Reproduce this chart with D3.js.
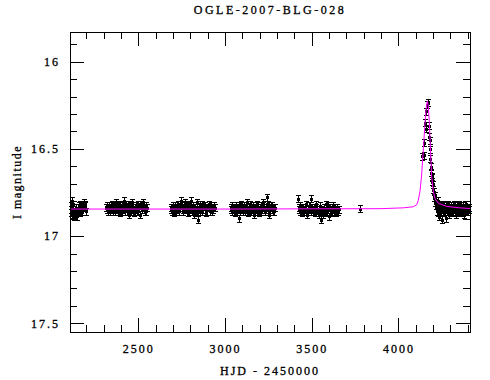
<!DOCTYPE html>
<html>
<head>
<meta charset="utf-8">
<script src="https://cdn.jsdelivr.net/npm/d3@7"></script>
<style>
	body { margin: 0; background: #ffffff; }
	text { font-family: "Liberation Serif", "DejaVu Serif", serif; fill: #000; stroke: #000; stroke-width: 0.3px; }
</style>
</head>
<body>
<div id="lc-chart"></div>
<script>
// OGLE photometry, HJD - 2450000 and I magnitude, one pair of arrays per season
var hjd2001 = [2110, 2112, 2114, 2115, 2117, 2119, 2120, 2122, 2125, 2128, 2131, 2134, 2136, 2140, 2143, 2146, 2152, 2155, 2158, 2163, 2166, 2169, 2175, 2178, 2181, 2186, 2189, 2192, 2195, 2197],
	mag2001 = [16.85, 16.83, 16.87, 16.80, 16.86, 16.88, 16.84, 16.82, 16.85, 16.89, 16.88, 16.86, 16.87, 16.84, 16.86, 16.89, 16.86, 16.84, 16.83, 16.87, 16.82, 16.85, 16.82, 16.86, 16.84, 16.81, 16.84, 16.83, 16.82, 16.86];

var hjd2002 = [2315, 2318, 2322, 2325, 2329, 2333, 2337, 2341, 2345, 2350, 2353, 2356, 2359, 2362, 2366, 2370, 2373, 2377, 2380, 2384, 2387, 2390, 2394, 2397, 2401, 2405, 2408, 2412, 2416, 2420, 2424, 2428, 2431,
		2435, 2438, 2441, 2445, 2448, 2452, 2455, 2459, 2462, 2466, 2470, 2473, 2477, 2480, 2484, 2487, 2490, 2494, 2497, 2501, 2505, 2508, 2512, 2516, 2520, 2524, 2527, 2531, 2535, 2538, 2542, 2546, 2550],
	mag2002 = [16.84, 16.85, 16.83, 16.86, 16.85, 16.83, 16.86, 16.84, 16.85, 16.82, 16.84, 16.86, 16.85, 16.83, 16.86, 16.81, 16.83, 16.84, 16.86, 16.85, 16.83, 16.82, 16.85, 16.87, 16.84, 16.83, 16.86, 16.85, 16.82, 16.80, 16.86, 16.84, 16.82,
		16.86, 16.84, 16.82, 16.85, 16.88, 16.83, 16.84, 16.86, 16.81, 16.83, 16.85, 16.86, 16.87, 16.84, 16.83, 16.85, 16.86, 16.84, 16.82, 16.86, 16.84, 16.82, 16.88, 16.84, 16.85, 16.83, 16.81, 16.85, 16.83, 16.86, 16.86, 16.83, 16.84];

var hjd2003 = [2686, 2688, 2692, 2695, 2699, 2703, 2708, 2712, 2717, 2722, 2726, 2731, 2735, 2740, 2744, 2748, 2752, 2756, 2760, 2763, 2767, 2770, 2774, 2777, 2780, 2784, 2787, 2790, 2794, 2797, 2800, 2804, 2807,
		2811, 2814, 2818, 2821, 2824, 2827, 2830, 2833, 2836, 2840, 2843, 2846, 2850, 2854, 2858, 2862, 2866, 2870, 2875, 2879, 2884, 2888, 2893, 2897, 2902, 2907, 2912, 2917, 2922, 2927, 2932, 2936, 2940],
	mag2003 = [16.84, 16.85, 16.86, 16.84, 16.83, 16.87, 16.85, 16.83, 16.86, 16.85, 16.84, 16.82, 16.86, 16.84, 16.82, 16.80, 16.84, 16.86, 16.85, 16.83, 16.85, 16.81, 16.84, 16.85, 16.83, 16.87, 16.85, 16.82, 16.86, 16.84, 16.82, 16.80, 16.85,
		16.86, 16.84, 16.83, 16.86, 16.88, 16.84, 16.85, 16.87, 16.81, 16.85, 16.91, 16.86, 16.84, 16.82, 16.86, 16.84, 16.82, 16.86, 16.85, 16.83, 16.83, 16.86, 16.87, 16.84, 16.84, 16.82, 16.86, 16.84, 16.83, 16.86, 16.85, 16.83, 16.84];

var hjd2004 = [3033, 3036, 3040, 3043, 3047, 3050, 3054, 3058, 3062, 3066, 3070, 3074, 3078, 3081, 3085, 3088, 3092, 3095, 3099, 3102, 3106, 3110, 3113, 3117, 3120, 3124, 3128, 3131, 3135, 3138, 3142, 3145, 3149, 3152, 3156, 3160,
		3164, 3168, 3171, 3175, 3179, 3182, 3186, 3190, 3194, 3198, 3202, 3206, 3210, 3214, 3218, 3222, 3226, 3230, 3234, 3238, 3241, 3244, 3247, 3250, 3253, 3256, 3259, 3262, 3266, 3270, 3275, 3280, 3285, 3290],
	mag2004 = [16.84, 16.85, 16.83, 16.86, 16.85, 16.84, 16.86, 16.87, 16.84, 16.83, 16.86, 16.85, 16.83, 16.90, 16.86, 16.84, 16.85, 16.82, 16.84, 16.86, 16.85, 16.83, 16.86, 16.85, 16.83, 16.81, 16.84, 16.87, 16.85, 16.84, 16.86, 16.82, 16.84, 16.86, 16.85, 16.83,
		16.86, 16.88, 16.84, 16.85, 16.83, 16.82, 16.86, 16.84, 16.85, 16.87, 16.84, 16.83, 16.86, 16.85, 16.83, 16.81, 16.84, 16.86, 16.85, 16.84, 16.82, 16.78, 16.85, 16.82, 16.86, 16.88, 16.84, 16.85, 16.83, 16.83, 16.86, 16.86, 16.84, 16.84];

var hjd2005 = [3421, 3424, 3428, 3431, 3435, 3438, 3442, 3446, 3450, 3454, 3458, 3462, 3466, 3470, 3474, 3478, 3482, 3486, 3490, 3494, 3498, 3501, 3505, 3508, 3512, 3515, 3519, 3522, 3526, 3529, 3533, 3536,
		3540, 3543, 3547, 3551, 3555, 3558, 3562, 3565, 3569, 3572, 3576, 3580, 3584, 3588, 3592, 3596, 3600, 3604, 3608, 3612, 3616, 3620, 3624, 3628, 3632, 3636, 3640, 3644, 3648, 3652, 3655],
	mag2005 = [16.79, 16.84, 16.85, 16.86, 16.83, 16.85, 16.87, 16.84, 16.84, 16.86, 16.86, 16.84, 16.82, 16.85, 16.88, 16.85, 16.85, 16.83, 16.83, 16.86, 16.79, 16.84, 16.86, 16.85, 16.84, 16.86, 16.87, 16.84, 16.82, 16.85, 16.85, 16.87,
		16.88, 16.85, 16.83, 16.86, 16.91, 16.85, 16.86, 16.88, 16.84, 16.86, 16.87, 16.84, 16.82, 16.86, 16.85, 16.83, 16.89, 16.85, 16.84, 16.87, 16.86, 16.84, 16.83, 16.86, 16.85, 16.84, 16.87, 16.85, 16.84, 16.86, 16.85];

var hjd2006 = [3780],
	mag2006 = [16.845];

// 2007 season: the event and its tail
var hjd2007 = [4138, 4148, 4150, 4153, 4157, 4159, 4166, 4169, 4176, 4178, 4180, 4182, 4184, 4186, 4188, 4191, 4194, 4196, 4198, 4201, 4203, 4207, 4209, 4213, 4216, 4219,
		4222, 4224, 4226, 4229, 4231, 4233, 4235, 4238, 4240, 4242, 4245, 4247, 4250, 4252, 4255, 4257, 4260, 4262, 4265, 4267, 4270, 4272, 4275, 4277, 4280, 4283, 4285, 4288,
		4290, 4293, 4295, 4298, 4300, 4303, 4305, 4308, 4310, 4313, 4315, 4318, 4320, 4323, 4325, 4328, 4330, 4333, 4335, 4338, 4340, 4343, 4345, 4348, 4350, 4353, 4355, 4358,
		4360, 4363, 4365, 4368, 4370, 4373, 4375, 4378, 4380, 4383, 4385, 4388, 4390, 4393, 4395, 4398, 4400, 4403, 4405, 4408],
	mag2007 = [16.545, 16.539, 16.468, 16.353, 16.388, 16.287, 16.25, 16.239, 16.37, 16.434, 16.453, 16.506, 16.56, 16.606, 16.64, 16.66, 16.669, 16.69, 16.707, 16.736, 16.75, 16.78, 16.77, 16.81, 16.80, 16.83,
		16.82, 16.86, 16.84, 16.80, 16.87, 16.84, 16.89, 16.85, 16.82, 16.88, 16.86, 16.83, 16.85, 16.91, 16.84, 16.85, 16.82, 16.86, 16.87, 16.84, 16.86, 16.90, 16.83, 16.85, 16.86, 16.84, 16.82, 16.86,
		16.88, 16.85, 16.84, 16.87, 16.86, 16.84, 16.83, 16.85, 16.87, 16.86, 16.84, 16.85, 16.82, 16.84, 16.86, 16.85, 16.84, 16.86, 16.88, 16.85, 16.83, 16.86, 16.85, 16.84, 16.82, 16.85, 16.87, 16.85,
		16.84, 16.83, 16.86, 16.85, 16.83, 16.86, 16.85, 16.84, 16.88, 16.85, 16.84, 16.86, 16.82, 16.85, 16.86, 16.84, 16.84, 16.86, 16.85, 16.84];

var magErr = 0.02;

// fitted microlensing model
var modelHjd = [2106, 3000, 3900, 4030, 4086, 4106, 4115, 4125, 4134, 4144, 4153, 4160, 4167, 4172, 4178, 4186, 4192, 4201, 4211, 4230, 4280, 4350, 4413],
	modelMag = [16.845, 16.845, 16.843, 16.838, 16.832, 16.82, 16.795, 16.74, 16.65, 16.50, 16.36, 16.27, 16.225, 16.25, 16.34, 16.53, 16.66, 16.74, 16.785, 16.812, 16.83, 16.838, 16.842];

var xMajorTicks = [2500, 3000, 3500, 4000],
	yMajorTicks = [16, 16.5, 17, 17.5];

var title = "OGLE-2007-BLG-028",
	xTitle = "HJD - 2450000",
	yTitle = "I magnitude";

var width = 490,
	height = 380,
	plotL = 70, plotR = 470, plotT = 32, plotB = 332;

var svg = d3.select("#lc-chart")
	.append("svg")
	.attr("width", width)
	.attr("height", height);

var x = d3.scaleLinear()
	.domain([2106, 4413])
	.range([plotL, plotR]);

var y = d3.scaleLinear()
	.domain([15.83, 17.55])
	.range([plotT, plotB]);

var xMinor = d3.range(2200, 4500, 100).filter(function (d) { return xMajorTicks.indexOf(d) < 0; }),
	yMinor = d3.range(15.9, 17.55, 0.1).filter(function (d) {
		return !yMajorTicks.some(function (m) { return Math.abs(m - d) < 1e-6; });
	});

function addAxis(axis, tx, ty, labels) {
	var g = svg.append("g")
		.attr("transform", "translate(" + tx + "," + ty + ")")
		.attr("shape-rendering", "crispEdges")
		.call(axis);
	g.select(".domain").remove();
	g.selectAll(".tick line").attr("stroke", "#000");
	if (!labels) g.selectAll(".tick text").remove();
	return g;
}

// bottom + left carry labels, top + right are only ticks
var gx = addAxis(d3.axisBottom(x).tickValues(xMajorTicks).tickSize(-14).tickPadding(12).tickFormat(d3.format("d")), 0, plotB, true);
addAxis(d3.axisBottom(x).tickValues(xMinor).tickSize(-7), 0, plotB, false);
addAxis(d3.axisTop(x).tickValues(xMajorTicks).tickSize(-14), 0, plotT, false);
addAxis(d3.axisTop(x).tickValues(xMinor).tickSize(-7), 0, plotT, false);

var gy = addAxis(d3.axisLeft(y).tickValues(yMajorTicks).tickSize(-14).tickPadding(10).tickFormat(d3.format("~g")), plotL, 0, true);
addAxis(d3.axisLeft(y).tickValues(yMinor).tickSize(-7), plotL, 0, false);
addAxis(d3.axisRight(y).tickValues(yMajorTicks).tickSize(-14), plotR, 0, false);
addAxis(d3.axisRight(y).tickValues(yMinor).tickSize(-7), plotR, 0, false);

gx.selectAll(".tick text").style("font-size", "12px").style("letter-spacing", "2px");
gy.selectAll(".tick text").style("font-size", "12px").style("letter-spacing", "2px");

var points = [];
[[hjd2001, mag2001], [hjd2002, mag2002], [hjd2003, mag2003], [hjd2004, mag2004],
	[hjd2005, mag2005], [hjd2006, mag2006], [hjd2007, mag2007]].forEach(function (s) {
	s[0].forEach(function (t, i) { points.push({ t: t, m: s[1][i] }); });
});

svg.append("g")
	.attr("class", "points")
	.attr("shape-rendering", "crispEdges")
	.selectAll("g")
	.data(points)
	.enter()
	.append("g")
	.each(function (d) {
		var g = d3.select(this),
			cx = Math.round(x(d.t)),
			y0 = y(d.m - magErr),
			y1 = y(d.m + magErr);
		g.append("line").attr("x1", cx + 0.5).attr("x2", cx + 0.5).attr("y1", y0).attr("y2", y1).attr("stroke", "#000");
		g.append("line").attr("x1", cx - 2).attr("x2", cx + 3).attr("y1", y0).attr("y2", y0).attr("stroke", "#000");
		g.append("line").attr("x1", cx - 2).attr("x2", cx + 3).attr("y1", y1).attr("y2", y1).attr("stroke", "#000");
		g.append("rect").attr("x", cx - 1).attr("y", y(d.m) - 1.5).attr("width", 3).attr("height", 3).attr("fill", "#000");
	});

var model = modelHjd.map(function (t, i) { return [t, modelMag[i]]; });

svg.append("path")
	.datum(model)
	.attr("fill", "none")
	.attr("stroke", "#ff00ff")
	.attr("stroke-width", 1)
	.attr("d", d3.line()
		.x(function (d) { return x(d[0]); })
		.y(function (d) { return y(d[1]); }));

// frame
svg.append("rect")
	.attr("x", plotL + 0.5)
	.attr("y", plotT + 0.5)
	.attr("width", plotR - plotL)
	.attr("height", plotB - plotT)
	.attr("fill", "none")
	.attr("stroke", "#000")
	.attr("stroke-width", 1.5)
	.attr("shape-rendering", "crispEdges");

svg.append("text")
	.attr("x", (plotL + plotR) / 2)
	.attr("y", 14)
	.attr("text-anchor", "middle")
	.style("font-size", "12px")
	.style("letter-spacing", "2.5px")
	.text(title);

svg.append("text")
	.attr("x", (plotL + plotR) / 2)
	.attr("y", 375)
	.attr("text-anchor", "middle")
	.style("font-size", "12px")
	.style("letter-spacing", "2px")
	.text(xTitle);

svg.append("text")
	.attr("transform", "translate(21," + 182 + ") rotate(-90)")
	.attr("text-anchor", "middle")
	.style("font-size", "12px")
	.style("letter-spacing", "1.5px")
	.text(yTitle);
</script>
</body>
</html>
